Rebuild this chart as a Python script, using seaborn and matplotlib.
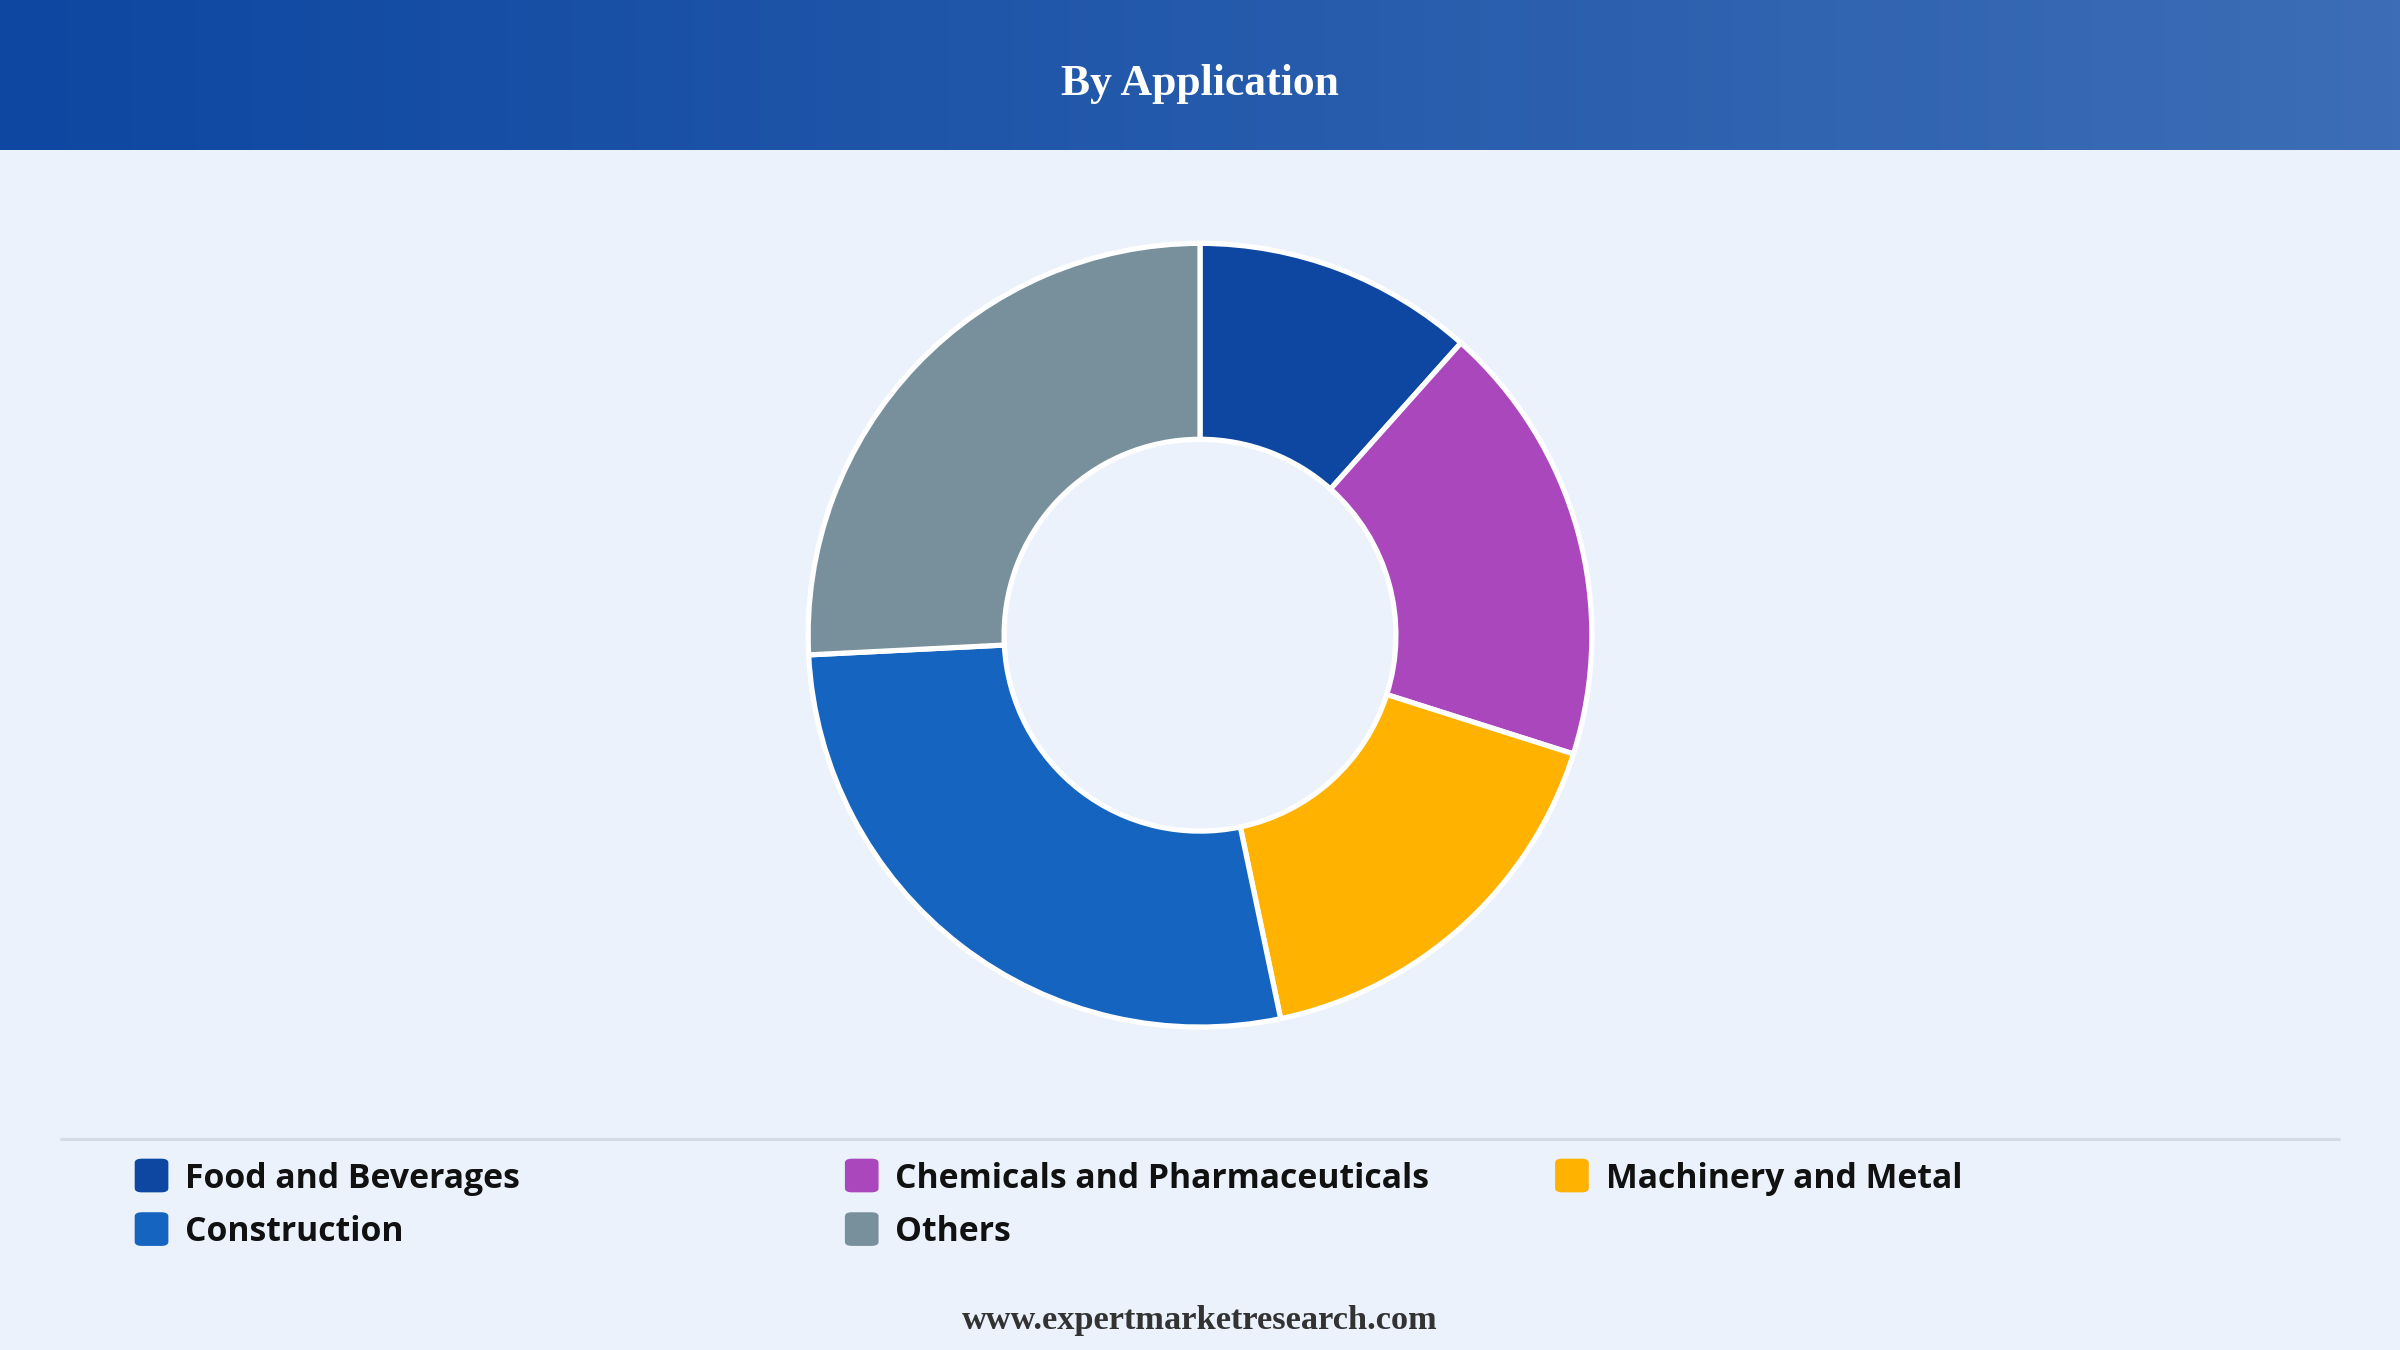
import numpy as np
import matplotlib
matplotlib.use("Agg")
import matplotlib.pyplot as plt
from matplotlib.patches import FancyBboxPatch
from matplotlib.colors import LinearSegmentedColormap
import seaborn as sns

categories = ["Food and Beverages", "Chemicals and Pharmaceuticals", "Machinery and Metal", "Construction", "Others"]
shares = [11.6, 18.3, 16.8, 27.5, 25.8]
colors = ["#0D47A1", "#AB47BC", "#FFB300", "#1565C0", "#78909C"]
title = "By Application"
footer = "www.expertmarketresearch.com"

sns.set_theme(style="white")
bg = "#EBF2FC"
fig = plt.figure(figsize=(16, 9), dpi=150, facecolor=bg)

# header gradient
hax = fig.add_axes([0, 1 - 98/882, 1, 98/882])
grad = np.linspace(0, 1, 256)[None, :]
cm = LinearSegmentedColormap.from_list("h", ["#0D47A1", "#3C6DB6"])
hax.imshow(grad, aspect="auto", cmap=cm, extent=[0, 1, 0, 1])
hax.set_axis_off()
fig.text(0.5, 1 - 55/882, title, ha="center", va="center", color="white",
         fontsize=21, fontweight="bold", family="Liberation Serif")

# donut
cy = 1 - 415/882
r = 256/882
w = 2*r*9/16
ax = fig.add_axes([0.5 - w/2, cy - r, w, 2*r])
ax.pie(shares, colors=colors, startangle=90, counterclock=False,
       wedgeprops=dict(width=0.5, edgecolor="white", linewidth=2.5))
ax.set_aspect("equal")
ax.set_xlim(-1.0, 1.0); ax.set_ylim(-1.0, 1.0)
ax.set_axis_off()

# separator
fig.add_artist(plt.Line2D([40/1568, 1528/1568], [1 - 744/882]*2, color="#D5DCE6", lw=1.5))

# legend
xs = [88, 552, 1016]
ys = [768, 803]
for i, (c, col) in enumerate(zip(categories, colors)):
    x = xs[i % 3]; y = ys[i // 3]
    sx, sy = 22/1568, 22/882
    fig.add_artist(FancyBboxPatch((x/1568, 1 - y/882 - sy/2), sx, sy,
                                  boxstyle="round,pad=0,rounding_size=0.003",
                                  facecolor=col, edgecolor="none", transform=fig.transFigure))
    fig.text((x + 33)/1568, 1 - (y + 2)/882, c, ha="left", va="center", fontsize=16.2,
             fontweight="bold", family="Open Sans", color="#111111")

fig.text(0.5, 1 - 863/882, footer, ha="center", va="center", fontsize=16.5,
         fontweight="bold", family="Liberation Serif", color="#333333")

fig.savefig("out.png", dpi=150, facecolor=bg)
